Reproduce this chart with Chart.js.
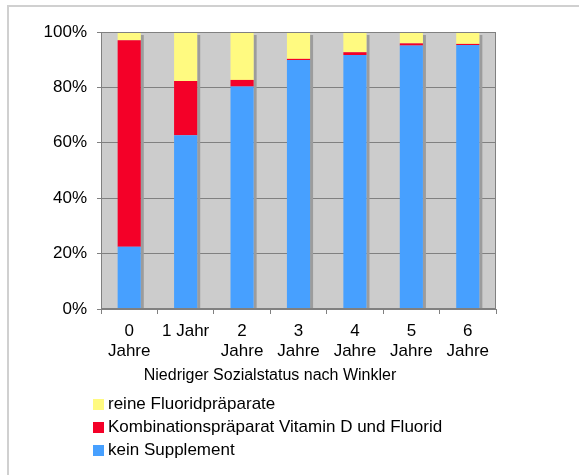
<!DOCTYPE html>
<html>
<head>
<meta charset="utf-8">
<script src="https://cdn.jsdelivr.net/npm/chart.js@4/dist/chart.umd.min.js"></script>
<style>
    html, body { margin: 0; padding: 0; background: #fff; }
    body { width: 579px; height: 475px; position: relative; overflow: hidden; font-family: "Liberation Sans", Arial, sans-serif; }
    #frame { position: absolute; left: 7px; top: 5px; width: 600px; height: 500px; border-top: 2px solid #d0d0d0; border-left: 2px solid #d0d0d0; }
    #wrap { position: absolute; left: 0; top: 0; width: 579px; height: 475px; }
    #xTitle { position: absolute; left: 70px; width: 400px; top: 366px; text-align: center; font-size: 16px; color: #000; }
    #legend { position: absolute; left: 93px; top: 392px; font-size: 17px; color: #000; }
    .item { height: 23px; line-height: 23px; white-space: nowrap; }
    .box { display: inline-block; width: 11px; height: 11px; margin-right: 4px; vertical-align: -1px; }
</style>
</head>
<body>
<div id="frame"></div>
<div id="wrap"><canvas id="chart" width="579" height="475"></canvas></div>
<div id="xTitle">Niedriger Sozialstatus nach Winkler</div>
<div id="legend"></div>
<script>
var categories = [['0', 'Jahre'], '1 Jahr', ['2', 'Jahre'], ['3', 'Jahre'], ['4', 'Jahre'], ['5', 'Jahre'], ['6', 'Jahre']];
var keinSupplement = [22.5, 62.7, 80.3, 89.9, 91.7, 95.1, 95.3];
var kombination    = [74.5, 19.6, 2.4, 0.4, 1.0, 0.8, 0.4];
var reinFluorid    = [3.0, 17.7, 17.3, 9.7, 7.3, 4.1, 4.3];
var yTicks = [0, 20, 40, 60, 80, 100];

var seriesNames = ['kein Supplement', 'Kombinationspräparat Vitamin D und Fluorid', 'reine Fluoridpräparate'];
var seriesColors = ['#47a0ff', '#f40028', '#fffa80'];

// legend, top entry first like the original
var legendEl = document.getElementById('legend');
[2, 1, 0].forEach(function(i) {
    var row = document.createElement('div');
    row.className = 'item';
    var box = document.createElement('span');
    box.className = 'box';
    box.style.background = seriesColors[i];
    row.appendChild(box);
    row.appendChild(document.createTextNode(seriesNames[i]));
    legendEl.appendChild(row);
});

var plotBg = {
    id: 'plotBg',
    beforeDraw: function(chart) {
        var a = chart.chartArea, ctx = chart.ctx;
        ctx.save();
        ctx.fillStyle = '#cccccc';
        ctx.fillRect(a.left, a.top, a.right - a.left, a.bottom - a.top);
        ctx.restore();
    },
    afterDraw: function(chart) {
        var a = chart.chartArea, ctx = chart.ctx;
        ctx.save();
        ctx.strokeStyle = '#808080';
        ctx.lineWidth = 1;
        ctx.strokeRect(Math.round(a.left) + 0.5, Math.round(a.top) + 0.5, Math.round(a.right - a.left) - 1, Math.round(a.bottom - a.top) - 1);
        ctx.restore();
    }
};

// grey drop shadow on the right of each stacked column
var barShadow = {
    id: 'barShadow',
    beforeDatasetsDraw: function(chart) {
        var ctx = chart.ctx;
        var top = chart.getDatasetMeta(chart.data.datasets.length - 1).data;
        var bottom = chart.getDatasetMeta(0).data;
        ctx.save();
        ctx.fillStyle = '#9c9c9c';
        top.forEach(function(el, i) {
            var b = bottom[i];
            var right = el.x + el.width / 2;
            ctx.fillRect(right, el.y + 3, 3, b.base - el.y - 3);
        });
        ctx.restore();
    }
};

Chart.defaults.font.family = '"Liberation Sans", Arial, sans-serif';
Chart.defaults.color = '#000';

new Chart(document.getElementById('chart').getContext('2d'), {
    type: 'bar',
    data: {
        labels: categories,
        datasets: [keinSupplement, kombination, reinFluorid].map(function(vals, i) {
            return {
                label: seriesNames[i],
                data: vals,
                backgroundColor: seriesColors[i],
                borderWidth: 0,
                barPercentage: 0.41,
                categoryPercentage: 1
            };
        })
    },
    options: {
        responsive: false,
        animation: false,
        layout: { padding: { left: 0, right: 83, top: 32, bottom: 0 } },
        plugins: { legend: { display: false }, tooltip: { enabled: false } },
        scales: {
            x: {
                stacked: true,
                afterFit: function(s) { s.height = 166; },
                grid: { offset: true, drawOnChartArea: false, drawTicks: true, tickLength: 5, color: '#808080' },
                border: { display: true, color: '#808080' },
                ticks: { font: { size: 17 }, padding: 7, maxRotation: 0, autoSkip: false }
            },
            y: {
                stacked: true,
                min: 0,
                max: 100,
                afterFit: function(s) { s.width = 101; },
                afterBuildTicks: function(s) { s.ticks = yTicks.map(function(v) { return { value: v }; }); },
                grid: { color: '#808080', tickLength: 4 },
                border: { display: true, color: '#808080' },
                ticks: { font: { size: 17 }, padding: 10, callback: function(v) { return v + '%'; } }
            }
        }
    },
    plugins: [plotBg, barShadow]
});
</script>
</body>
</html>
